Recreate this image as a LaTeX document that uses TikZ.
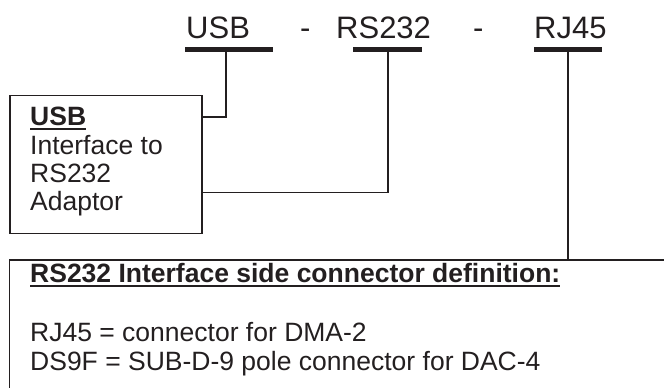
\documentclass[tikz,border=0pt]{standalone}
\usepackage{fontspec}
\setmainfont{Liberation Sans}
\definecolor{ink}{HTML}{231F20}
\newcommand\myul[1]{\setbox0\hbox{#1}\rlap{\color{ink}\rule[-4pt]{\wd0}{2pt}}\box0}
\begin{document}
\begin{tikzpicture}[x=1pt,y=-1pt,
  big/.style={anchor=base west,inner sep=0pt,text=ink,font=\fontsize{31}{34}\selectfont},
  txt/.style={anchor=base west,inner sep=0pt,text=ink,font=\fontsize{26.5}{28.3}\selectfont},
  bar/.style={draw=ink,line width=5pt},
  wire/.style={draw=ink,line width=1.9pt},
  boxline/.style={draw=ink,line width=1.9pt}]
\useasboundingbox (0,0) rectangle (664,388);
\clip (0,0) rectangle (664,388);
% top labels
\node[big] (tusb) at (186,38) {USB};
\node[big] (d1) at (300,38) {-};
\node[big] (trs) at (336,38) {RS232};
\node[big] (d2) at (473,38) {-};
\node[big] (trj) at (534,38) {RJ45};
% bars
\coordinate (usbL) at (185,49.5); \coordinate (usbR) at (273,49.5);
\coordinate (rsL) at (353,49.5); \coordinate (rsR) at (422,49.5);
\coordinate (rjL) at (534,49.5); \coordinate (rjR) at (602,49.5);
\draw[bar] (usbL) -- (usbR);
\draw[bar] (rsL) -- (rsR);
\draw[bar] (rjL) -- (rjR);
% box 1
\node[boxline,rectangle,anchor=north west,minimum width=192pt,minimum height=138pt,inner sep=0pt] (box1) at (9,94.5) {};
\node[txt] (b1a) at (30,125.7) {\bfseries\myul{USB}};
\node[txt] (b1b) at (30,154) {Interface to};
\node[txt] (b1c) at (30,182.3) {RS232};
\node[txt] (b1d) at (30,210.6) {Adaptor};
% box 2
\node[boxline,rectangle,anchor=north west,minimum width=720pt,minimum height=200pt,inner sep=0pt] (box2) at (8.5,259) {};
\node[txt] (b2a) at (30,282.5) {\bfseries\myul{RS232 Interface side connector definition:}};
\node[txt] (b2b) at (30,341.7) {RJ45 = connector for DMA-2};
\node[txt] (b2c) at (30,370) {DS9F = SUB-D-9 pole connector for DAC-4};
% connectors
\coordinate (usbT) at (226,49.5);
\coordinate (rsT) at (388,49.5);
\coordinate (rjT) at (568.3,49.5);
\coordinate (e1) at (201,117);
\coordinate (e2) at (201,192.5);
\draw[wire] (usbT) |- (e1);
\draw[wire] (rsT) |- (e2);
\draw[wire] (rjT) -- (rjT |- box2.north);
\end{tikzpicture}
\end{document}
